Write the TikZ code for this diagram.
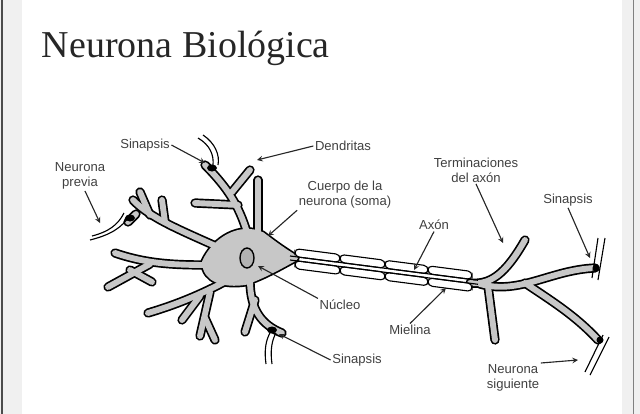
\documentclass[tikz,border=0pt]{standalone}
\usepackage{fontspec}
\setmainfont{Liberation Sans}
\newfontfamily\titlefont{Liberation Serif}
\definecolor{fillg}{gray}{0.78}
\begin{document}
\begin{tikzpicture}[x=0.025cm,y=-0.025cm,
  lab/.style={font=\fontsize{9.3}{10.6}\selectfont, text=black!75, align=center, inner sep=1pt},
  arr/.style={-stealth, line width=0.8pt, black!85},
  outer/.style={draw=black, line width=6.6pt, line cap=round, line join=round},
  inner/.style={draw=fillg, line width=4.2pt, line cap=round, line join=round}]
\useasboundingbox (0,0) rectangle (640,414);
\fill[gray!12] (0,0) rectangle (22,414);
\fill[gray!12] (622,0) rectangle (640,414);
\draw[black!70, line width=1pt] (2,0) -- (2,414);
\draw[black!50, line width=0.6pt] (633,0) -- (633,414);
\node[anchor=west, font=\titlefont\fontsize{27}{30}\selectfont, text=black!85] (title) at (37,48) {Neurona Biológica};

\newcommand\neurpaths[2]{%
  \path[#1] (220,248) .. controls (180,230) and (150,218) .. (133,200);
  \path[#1] (150,215) -- (140,192);
  \path[#1] (165,222) -- (162,200);
  \path[#1] (136,214) -- (128,222);
  \path[#1] (250,242) .. controls (242,215) and (235,195) .. (205,165);
  \path[#1] (238,205) -- (195,203);
  \path[#1] (232,192) -- (250,170);
  \path[#1] (258,240) -- (258,180);
  \path[#1] (215,265) .. controls (180,265) and (150,265) .. (115,253);
  \path[#1] (150,264) -- (108,287);
  \path[#1] (130,270) -- (152,282);
  \path[#1] (228,280) .. controls (200,295) and (175,305) .. (148,313);
  \path[#1] (200,296) -- (182,320);
  \path[#1] (210,292) -- (200,336);
  \path[#1] (205,318) -- (215,340);
  \path[#1] (250,280) .. controls (250,310) and (262,325) .. (282,333);
  \path[#1] (255,300) -- (245,332);
  \path[#1] (470,283) .. controls (490,285) and (505,275) .. (525,240);
  \path[#1] (488,286) -- (495,340);
  \path[#1] (480,284) .. controls (520,295) and (550,270) .. (595,268);
  \path[#1] (525,283) .. controls (550,300) and (575,315) .. (598,340);
  \path[#1,fill=#2] (205,262) .. controls (215,240) and (240,225) .. (262,235)
     .. controls (275,245) and (285,252) .. (295,258)
     .. controls (280,266) and (265,275) .. (245,282)
     .. controls (225,285) and (205,280) .. (205,262) -- cycle;
}
\neurpaths{outer}{black}
\neurpaths{inner}{fillg}
\draw[line width=1pt, fill=gray!60] (247,258) ellipse [x radius=7, y radius=10];
% axon
\foreach \a/\b in {295/340,340/385,385/428,428/472}{
  \pgfmathsetmacro\ya{258+(\a-290)*0.129}
  \pgfmathsetmacro\yb{258+(\b-290)*0.129}
  \draw[line width=0.8pt, fill=white, rounded corners=3]
    (\a,\ya-10) -- (\b,\yb-10) -- (\b,\yb-2) -- (\a,\ya-2) -- cycle;
  \draw[line width=0.8pt, fill=white, rounded corners=3]
    (\a,\ya+2) -- (\b,\yb+2) -- (\b,\yb+10) -- (\a,\ya+10) -- cycle;
}
\draw[line width=0.8pt] (290,256) -- (478,280.3) (290,260) -- (478,284.3);
% other neurons
\draw[line width=0.8pt] (90,240) .. controls (110,235) and (122,228) .. (130,215);
\draw[line width=0.8pt] (92,236) .. controls (108,232) and (118,225) .. (124,213);
\draw[line width=0.8pt] (198,138) .. controls (210,145) and (214,155) .. (213,165);
\draw[line width=0.8pt] (203,135) .. controls (215,143) and (220,155) .. (218,165);
\draw[line width=0.8pt] (266,364) .. controls (264,350) and (266,340) .. (270,333);
\draw[line width=0.8pt] (272,364) .. controls (270,350) and (272,340) .. (276,333);
\draw[line width=0.8pt] (598,238) -- (592,278) (605,238) -- (598,280);
\draw[line width=0.8pt] (585,372) -- (603,335) (590,375) -- (609,337);
\fill (130,218) ellipse [x radius=5, y radius=3.5];
\fill (212,168) ellipse [x radius=5, y radius=3.5];
\fill (272,330) ellipse [x radius=5, y radius=3.5];
\fill (596,268) circle (3.5);
\fill (600,340) circle (3.5);
% labels
\node[lab] (s1) at (145,145) {Sinapsis};
\node[lab] (np) at (80,176) {Neurona\\previa};
\node[lab] (de) at (343,146) {Dendritas};
\node[lab] (cu) at (345,195) {Cuerpo de la\\neurona (soma)};
\node[lab] (ax) at (434,225) {Axón};
\node[lab] (te) at (476,170) {Terminaciones\\del axón};
\node[lab] (s2) at (568,200) {Sinapsis};
\node[lab] (nu) at (340,305) {Núcleo};
\node[lab] (mi) at (410,330) {Mielina};
\node[lab] (s3) at (357,360) {Sinapsis};
\node[lab] (ns) at (513,378) {Neurona\\siguiente};
\coordinate (t1) at (205,163);
\coordinate (t2) at (100,223);
\coordinate (t3) at (257,160);
\coordinate (t4) at (268,236);
\coordinate (t5) at (414,270);
\coordinate (t6) at (503,243);
\coordinate (t7) at (590,258);
\coordinate (t8) at (258,266);
\coordinate (t9) at (446,288);
\coordinate (t10) at (279,334);
\coordinate (t11) at (578,360);
\draw[arr] (s1.east) -- (t1);
\draw[arr] (np.south) ++(5,0) -- (t2);
\draw[arr] (de.west) -- (t3);
\draw[arr] (cu.south west) -- (t4);
\draw[arr] (ax.south) -- (t5);
\draw[arr] (te.south) -- (t6);
\draw[arr] (s2.south) -- (t7);
\draw[arr] (nu.north west) -- (t8);
\draw[arr] (mi.north) -- (t9);
\draw[arr] (s3.west) -- (t10);
\draw[arr] (ns.north east) -- (t11);
\end{tikzpicture}
\end{document}
